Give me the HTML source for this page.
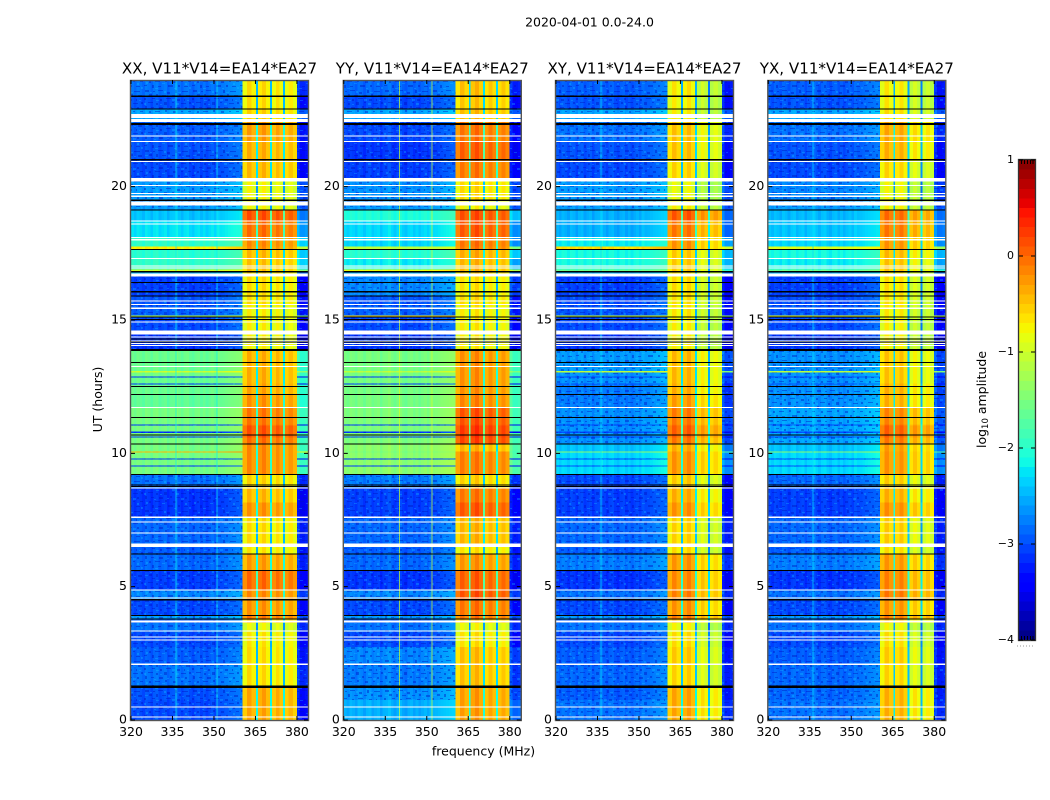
<!DOCTYPE html>
<html>
<head>
<meta charset="utf-8">
<title>Amplitude waterfall</title>
<style>
html,body{margin:0;padding:0;background:#fff;}
svg{display:block;}
text{font-family:"DejaVu Sans","Liberation Sans",sans-serif;fill:#000;}
</style>
</head>
<body>
<svg id="chart" xmlns="http://www.w3.org/2000/svg" width="1050" height="800" viewBox="0 0 1050 800">
<defs>
<pattern id="speckle" patternUnits="userSpaceOnUse" x="0" y="0" width="48" height="30">
<g fill="#0010c0" fill-opacity=".42" shape-rendering="crispEdges">
<rect x="1" y="0" width="4" height="2"/><rect x="9" y="1" width="2" height="1"/><rect x="14" y="0" width="5" height="1"/><rect x="23" y="2" width="3" height="2"/><rect x="31" y="0" width="2" height="3"/><rect x="38" y="1" width="6" height="1"/>
<rect x="5" y="4" width="3" height="2"/><rect x="12" y="4" width="2" height="3"/><rect x="18" y="5" width="4" height="1"/><rect x="28" y="5" width="3" height="1"/><rect x="35" y="4" width="2" height="2"/><rect x="42" y="5" width="4" height="2"/>
<rect x="0" y="8" width="2" height="2"/><rect x="8" y="8" width="3" height="1"/><rect x="16" y="9" width="2" height="2"/><rect x="22" y="8" width="5" height="1"/><rect x="33" y="9" width="3" height="2"/><rect x="40" y="9" width="1" height="2"/>
<rect x="4" y="12" width="5" height="1"/><rect x="12" y="13" width="2" height="2"/><rect x="20" y="12" width="3" height="3"/><rect x="28" y="12" width="2" height="1"/><rect x="37" y="13" width="5" height="1"/><rect x="45" y="12" width="2" height="2"/>
<rect x="1" y="16" width="2" height="3"/><rect x="7" y="17" width="3" height="1"/><rect x="15" y="17" width="4" height="2"/><rect x="26" y="16" width="2" height="2"/><rect x="32" y="17" width="4" height="1"/><rect x="41" y="17" width="2" height="2"/>
<rect x="5" y="21" width="2" height="2"/><rect x="11" y="21" width="5" height="1"/><rect x="21" y="20" width="2" height="2"/><rect x="29" y="21" width="3" height="2"/><rect x="37" y="21" width="2" height="1"/><rect x="44" y="21" width="3" height="1"/>
<rect x="0" y="25" width="3" height="1"/><rect x="8" y="25" width="2" height="3"/><rect x="14" y="26" width="3" height="1"/><rect x="24" y="25" width="5" height="2"/><rect x="34" y="25" width="2" height="2"/><rect x="40" y="26" width="4" height="1"/>
</g>
<g fill="#18c8ff" fill-opacity=".3" shape-rendering="crispEdges">
<rect x="6" y="2" width="2" height="1"/><rect x="20" y="1" width="2" height="2"/><rect x="34" y="2" width="3" height="1"/>
<rect x="1" y="5" width="3" height="1"/><rect x="24" y="5" width="2" height="2"/><rect x="38" y="6" width="2" height="1"/>
<rect x="12" y="10" width="3" height="1"/><rect x="28" y="9" width="3" height="2"/><rect x="43" y="10" width="2" height="1"/>
<rect x="0" y="13" width="2" height="2"/><rect x="16" y="14" width="2" height="1"/><rect x="32" y="13" width="3" height="2"/>
<rect x="10" y="19" width="2" height="1"/><rect x="23" y="18" width="2" height="1"/><rect x="37" y="18" width="3" height="2"/>
<rect x="2" y="22" width="2" height="2"/><rect x="18" y="23" width="3" height="1"/><rect x="41" y="23" width="2" height="2"/>
<rect x="11" y="28" width="3" height="1"/><rect x="30" y="28" width="2" height="1"/><rect x="45" y="27" width="2" height="2"/>
</g>
</pattern>
</defs>
<rect x="0" y="0" width="1050" height="800" fill="#fff"/>
<text x="589.5" y="26.5" font-size="12.5" text-anchor="middle">2020-04-01 0.0-24.0</text>
<text x="483.5" y="755.5" font-size="12.5" text-anchor="middle">frequency (MHz)</text>
<text x="0" y="0" font-size="12.5" text-anchor="middle" transform="translate(102 399.5) rotate(-90)">UT (hours)</text>
<text x="0" y="0" font-size="12.5" text-anchor="middle" transform="translate(986 399.5) rotate(-90)">log<tspan font-size="8.5" dy="2">10</tspan><tspan dy="-2"> amplitude</tspan></text>
<g id="panels"></g>
<g id="colorbar"></g>
</svg>
<script>
// ---------- chart data ----------
const panelTitles = ["XX, V11*V14=EA14*EA27","YY, V11*V14=EA14*EA27","XY, V11*V14=EA14*EA27","YX, V11*V14=EA14*EA27"];
const freqTicks = [320,335,350,365,380];
const hourTicks = [0,5,10,15,20];
const colorTicks = [1,0,-1,-2,-3,-4];
const colorTickLabels = ["1","0","\u22121","\u22122","\u22123","\u22124"];
const freqEdges = [320,321,322,323,324,325,326,327,328,329,330,331,332,333,334,335,336,337,338,339,340,341,342,343,344,345,346,347,348,349,350,351,352,353,354,355,356,357,358,359,360,360.4,
  362,363.6,365.2,365.9,367.4,368.9,370.3,371,372.4,373.7,375,375.7,377,378.5,380,381,382,383,384];
const bgOffsets = [-.09,-.16,-.07,-.11,-.18,-.06,-.1,-.19,-.08,-.05,-.17,-.11,-.07,-.2,-.1,-.08,-.01,-.11,-.19,-.09,-.06,-.16,-.21,-.11,-.08,-.18,-.1,-.19,-.12,-.07,-.15,-.03,-.09,-.07,-.04,-.01,.01,.03,.05,.07,.07];
const bandOffsets = [-.18,.07,-.1,-1.8,-.05,.1,-.1,-1.8,-.16,.02,-.14,-1.8,-.14,0,-.16];
const tailOffsets = [-.3,-.5,-.5,-.45];
const bandTilt = [[0,0,0,-.05],[0,.05,0,0],[.05,.05,-.22,-.28],[.05,0,-.2,-.25]];
const rowTops = [24,23.39,22.91,22.46,21.7,21,20.32,19.49,19.15,18.7,18.1,17.76,17.65,17.31,17.05,16.9,16.82,16.64,15.9,15.55,15.17,15.11,14.46,13.86,13.09,13.03,12.88,12.84,12.62,12.58,12.2,11.72,11.08,11.04,10.81,10.77,10.63,10.59,10.36,10.06,10.03,9.8,9.76,9.54,9.5,9.2,8.71,8.15,7.59,6.5,6.23,5.6,4.88,4.51,3.94,3.76,3.64,3.3,2.74,2.1,1.25,.75];
const bgXX = [-2.7,-2.85,-2.45,-2.8,-2.85,-2.9,-2.5,-2.5,-2.3,-2.15,-1.85,-.6,-1.9,-1.85,-1.8,-.9,-2.4,-2.95,-2.85,-2.8,-1,-2.9,-3,-1.5,-.9,-1.45,-3,-1.5,-3,-1.5,-1.55,-1.42,-3,-1.42,-3,-1.42,-3,-1.42,-1.42,-.3,-1.42,-3,-1.42,-3,-1.42,-2.7,-3,-3,-2.75,-2.8,-2.75,-2.95,-2.6,-2.9,-2.5,-2.8,-2.7,-2.9,-2.8,-2.7,-2.85,-2.9];
const bgYY = [-2.75,-2.9,-2.45,-2.9,-3,-2.95,-2.55,-2.5,-1.95,-2.2,-2.2,-1,-1.9,-2.1,-2,-.7,-2.4,-2.6,-2.85,-2.8,-.5,-2.9,-3,-1.42,-1,-1.42,-3,-1.42,-3,-1.42,-1.42,-1.38,-3,-1.38,-3,-1.38,-3,-1.38,-1.3,-1.4,-1.3,-3,-1.3,-3,-1.3,-2.65,-2.95,-2.95,-2.75,-2.8,-2.75,-3,-2.6,-2.9,-2.5,-2.8,-2.7,-2.9,-2.6,-2.65,-2.55,-2.4];
const bgXY = [-2.8,-2.85,-2.45,-2.7,-2.85,-2.9,-2.5,-2.5,-2.4,-2.4,-2.1,-.5,-2,-2,-1.9,-1.5,-2.4,-2.95,-2.9,-2.85,-.9,-2.9,-3,-2.5,-1,-2.55,-2.9,-2.55,-2.9,-2.65,-2.65,-2.55,-2.9,-2.55,-2.9,-2.55,-2.9,-2.55,-2.3,-1.3,-2.2,-2.9,-2.2,-2.9,-2.2,-2.9,-2.95,-2.95,-2.75,-2.8,-2.65,-3,-2.7,-2.9,-2.5,-2.8,-2.7,-2.9,-2.8,-2.75,-2.8,-2.7];
const bgYX = [-2.8,-2.85,-2.45,-2.7,-2.85,-2.9,-2.6,-2.5,-2.35,-2.3,-2.2,-.8,-2,-2.1,-2,-1.5,-2.4,-2.95,-2.9,-2.85,-.7,-2.9,-3,-2.55,-1,-2.55,-2.9,-2.55,-2.9,-2.55,-2.55,-2.45,-2.9,-2.45,-2.9,-2.45,-2.9,-2.45,-2.3,-1.3,-2.2,-2.9,-2.2,-2.9,-2.2,-2.75,-2.95,-2.95,-2.75,-2.8,-2.65,-3,-2.7,-2.9,-2.5,-2.8,-2.7,-2.9,-2.8,-2.75,-2.75,-2.7];
const bandXX = [-.65,-.65,-.6,-.3,-.4,-.45,-.8,-.8,.12,-.05,-.2,-.25,-.45,-.5,-.5,-.5,-.6,-.65,-.65,-.75,-.7,-.75,-.75,-.4,-.4,-.4,-.4,-.4,-.35,-.35,-.25,-.1,-.05,.1,.1,.1,.1,-.05,-.2,-.2,-.2,-.2,-.2,-.2,-.2,-.6,-.45,-.25,-.65,-.7,-.3,-.02,-.2,-.25,-.1,-.5,-.85,-.7,-.65,-.65,-.35,-.35];
const bandYY = [-.5,-.55,-.5,-.1,.02,-.12,-.65,-.8,.1,.05,-.1,-.15,-.4,-.45,-.45,-.45,-.6,-.7,-.65,-.75,-.7,-.75,-.75,-.25,-.25,-.25,-.25,-.25,-.25,-.25,-.2,.08,.12,.22,.22,.22,.22,.15,-.45,-.15,-.15,-.15,-.15,-.15,-.15,-.6,-.12,.05,-.45,-.7,-.28,.02,.08,-.1,-.1,-.5,-.85,-.7,-.5,-.5,-.32,-.32];
const bandXY = [-.75,-.8,-.8,-.55,-.55,-.65,-.9,-.8,.02,-.15,-.3,-.3,-.6,-.6,-.6,-.6,-.7,-.7,-.72,-.75,-.75,-.8,-.8,-.5,-.5,-.5,-.5,-.5,-.45,-.45,-.35,-.18,-.12,-.02,-.02,-.02,-.02,-.15,-.45,-.3,-.3,-.3,-.3,-.3,-.3,-.6,-.45,-.3,-.65,-.7,-.32,-.25,-.2,-.3,-.15,-.5,-.85,-.7,-.6,-.65,-.4,-.4];
const bandYX = [-.75,-.75,-.7,-.4,-.45,-.65,-.85,-.8,-.08,-.15,-.3,-.3,-.5,-.55,-.55,-.55,-.7,-.7,-.72,-.75,-.75,-.8,-.8,-.55,-.55,-.55,-.55,-.55,-.45,-.45,-.45,-.22,-.12,-.02,-.02,-.02,-.02,-.15,-.35,-.3,-.3,-.3,-.3,-.3,-.3,-.6,-.45,-.28,-.6,-.7,-.32,-.2,-.15,-.3,-.15,-.5,-.85,-.7,-.6,-.65,-.45,-.45];
const whiteFlags = [[22.72,22.57],[22.53,22.43],[21.92,21.88],[21.72,21.68],[20.97,20.93],[20.32,20.2],[20.07,20.03],[19.77,19.73],[19.66,19.62],[19.45,19.3],[18.73,18.69],[18.62,18.58],[18.12,18.08],[18.03,17.99],[17.33,17.29],[17.04,17],[16.97,16.93],[16.75,16.64],[15.73,15.69],[15.6,15.56],[15.46,15.42],[14.94,14.9],[14.61,14.46],[14.38,14.34],[14.23,14.19],[14.14,14.1],[14.06,14.02],[13.28,13.24],[11.74,11.7],[8.72,8.68],[7.63,7.58],[7.44,7.4],[7.04,7],[6.61,6.48],[4.89,4.85],[4.59,4.55],[3.74,3.65],[3.36,3.32],[3.14,3.1],[3.02,2.98],[2.11,2.07],[.5,.46],[.14,.1]];
const blackFlags = [[23.41,23.37],[22.93,22.89],[22.38,22.31],[21.03,20.99],[19.51,19.47],[19.15,19.11],[17.67,17.63],[16.83,16.79],[16.42,16.38],[16.08,16.04],[15.92,15.88],[15.13,15.09],[15.04,15],[14.3,14.26],[14.19,14.15],[13.92,13.83],[13.43,13.39],[12.52,12.48],[12.22,12.18],[11.36,11.32],[10.71,10.67],[10.37,10.33],[9.22,9.18],[8.84,8.8],[8.77,8.73],[6.24,6.2],[5.62,5.58],[4.53,4.49],[3.94,3.9],[3.8,3.76],[1.29,1.2]];
const rfiFreqs = [[336,351],[340,351.8],[336],[336]];
const rfiLevels = [-2.2,-1,-2.3,-2.3];
const colorLevels = [1,.9,.8,.7,.6,.5,.4,.3,.2,.1,0,-.1,-.2,-.3,-.4,-.5,-.6,-.7,-.8,-.9,-1,-1.1,-1.2,-1.3,-1.4,-1.5,-1.6,-1.7,-1.8,-1.9,-2,-2.1,-2.2,-2.3,-2.4,-2.5,-2.6,-2.7,-2.8,-2.9,-3,-3.1,-3.2,-3.3,-3.4,-3.5,-3.6,-3.7,-3.8,-3.9];
const bgByPanel = [bgXX,bgYY,bgXY,bgYX];
const bandByPanel = [bandXX,bandYY,bandXY,bandYX];

// ---------- layout and scales ----------
const panelLeft = [131,343.8,556,768.3];
const panelWidth = 177;
const plotTop = 80;
const plotBottom = 720;
const freqMin = 320, freqMax = 384, hourMin = 0, hourMax = 24;
const cbX = 1019, cbW = 16, cbTop = 160, cbBottom = 640, cbMax = 1, cbMin = -4;
const speckleBelow = -2.4;
const bandStartFreq = 360.4, bandEndFreq = 380;
const cbEdgeTickInsets = [2.5,5.5,8.5,11.5,14];
const NS = "http://www.w3.org/2000/svg";
function xScale(p,f){return panelLeft[p]+(f-freqMin)/(freqMax-freqMin)*panelWidth;}
function yScale(h){return plotBottom-(h-hourMin)/(hourMax-hourMin)*(plotBottom-plotTop);}
function cbScale(v){return cbTop+(cbMax-v)/(cbMax-cbMin)*(cbBottom-cbTop);}
function piece(t,pts){
  for(let i=1;i<pts.length;i++){
    if(t<=pts[i][0]){
      const a=pts[i-1],b=pts[i];
      return a[1]+(b[1]-a[1])*(t-a[0])/(b[0]-a[0]);
    }
  }
  return pts[pts.length-1][1];
}
function jet(v){
  const t=Math.max(0,Math.min(1,(v-cbMin)/(cbMax-cbMin)));
  const r=piece(t,[[0,0],[.35,0],[.66,1],[.89,1],[1,.5]]);
  const g=piece(t,[[0,0],[.125,0],[.375,1],[.64,1],[.91,0],[1,0]]);
  const b=piece(t,[[0,.5],[.11,1],[.34,1],[.65,0],[1,0]]);
  return "rgb("+Math.round(r*255)+","+Math.round(g*255)+","+Math.round(b*255)+")";
}
function shape(parent,tag,attrs){
  const n=document.createElementNS(NS,tag);
  for(const k in attrs){n.setAttribute(k,attrs[k]);}
  parent.appendChild(n);
  return n;
}
function channelValue(p,row,c){
  const nb=bgOffsets.length;
  if(c<nb){return bgByPanel[p][row]+bgOffsets[c];}
  const i=c-nb;
  if(i<bandOffsets.length){return bandByPanel[p][row]+bandOffsets[i]+bandTilt[p][Math.floor(i/4)];}
  return bgByPanel[p][row]+tailOffsets[i-bandOffsets.length];
}

// ---------- panels ----------
const panelsRoot=document.getElementById("panels");
panelTitles.forEach(function(title,p){
  const g=shape(panelsRoot,"g",{});
  
  
  const cells=shape(g,"g",{"shape-rendering":"crispEdges"});
  
  
  rowTops.forEach(function(top,r){
    const bottom=r+1<rowTops.length?rowTops[r+1]:hourMin;
    const y0=yScale(top),y1=yScale(bottom);
    for(let c=0;c<freqEdges.length-1;c++){
      const x0=xScale(p,freqEdges[c]),x1=xScale(p,freqEdges[c+1]);
      const cell=shape(cells,"rect",{x:x0,y:y0,width:x1-x0+.3,height:y1-y0+.3,fill:jet(channelValue(p,r,c))});
      
      
    }
    if(bgByPanel[p][r]<speckleBelow){
      const noiseBg=shape(cells,"rect",{x:xScale(p,freqMin),y:y0,width:xScale(p,bandStartFreq)-xScale(p,freqMin),height:y1-y0,fill:"url(#speckle)"});
      
      
      const noiseTail=shape(cells,"rect",{x:xScale(p,bandEndFreq),y:y0,width:xScale(p,freqMax)-xScale(p,bandEndFreq),height:y1-y0,fill:"url(#speckle)"});
      
      
    }
  });
  rfiFreqs[p].forEach(function(f){
    const line=shape(cells,"rect",{x:xScale(p,f),y:plotTop,width:1,height:plotBottom-plotTop,fill:jet(rfiLevels[p]),"fill-opacity":.7});
    
    
  });
  whiteFlags.forEach(function(fl){
    const w=shape(cells,"rect",{x:panelLeft[p],y:yScale(fl[0]),width:panelWidth,height:yScale(fl[1])-yScale(fl[0]),fill:"#fff"});
    
    
  });
  blackFlags.forEach(function(fl){
    const b=shape(cells,"rect",{x:panelLeft[p],y:yScale(fl[0]),width:panelWidth,height:yScale(fl[1])-yScale(fl[0]),fill:"#000"});
    
    
  });
  const frame=shape(g,"rect",{x:panelLeft[p]-.5,y:plotTop+.5,width:panelWidth+1,height:plotBottom-plotTop,fill:"none",stroke:"#555","stroke-width":1.4});
  
  
  const t=shape(g,"text",{x:panelLeft[p]+panelWidth/2,y:73.5,"font-size":15.1,"text-anchor":"middle"});
  
  
  t.textContent=title;
  freqTicks.forEach(function(f){
    const x=xScale(p,f);
    const tk=shape(g,"path",{d:"M"+x+" "+plotBottom+"v-4M"+x+" "+plotTop+"v4",stroke:"#000","stroke-width":1,fill:"none"});
    
    
    const lb=shape(g,"text",{x:x,y:736,"font-size":12.5,"text-anchor":"middle"});
    
    
    lb.textContent=String(f);
  });
  hourTicks.forEach(function(h){
    const y=yScale(h);
    const x0=panelLeft[p],x1=panelLeft[p]+panelWidth;
    const tk=shape(g,"path",{d:"M"+x0+" "+y+"h4M"+x1+" "+y+"h-4",stroke:"#000","stroke-width":1,fill:"none"});
    
    
    const lb=shape(g,"text",{x:x0-4,y:y+3.5,"font-size":12.5,"text-anchor":"end"});
    
    
    lb.textContent=String(h);
  });
});

// ---------- colorbar ----------
const cbRoot=document.getElementById("colorbar");
colorLevels.forEach(function(v,i){
  const next=i+1<colorLevels.length?colorLevels[i+1]:cbMin;
  const r=shape(cbRoot,"rect",{x:cbX,y:cbScale(v),width:cbW,height:cbScale(next)-cbScale(v)+.4,fill:jet((v+next)/2),"shape-rendering":"crispEdges"});
  
  
});
const cbFrame=shape(cbRoot,"rect",{x:cbX-.5,y:cbTop-.5,width:cbW+1,height:cbBottom-cbTop+1,fill:"none",stroke:"#333","stroke-width":1.3});


colorTicks.forEach(function(v,i){
  const y=cbScale(v);
  const tk=shape(cbRoot,"path",{d:"M"+cbX+" "+y+"h4M"+(cbX+cbW)+" "+y+"h-4",stroke:"#000","stroke-width":1,fill:"none"});
  
  
  const lb=shape(cbRoot,"text",{x:cbX-5,y:y+3,"font-size":11,"text-anchor":"end"});
  
  
  lb.textContent=colorTickLabels[i];
});
cbEdgeTickInsets.forEach(function(dx){
  const x=cbX+dx;
  const tk=shape(cbRoot,"path",{d:"M"+x+" "+cbTop+"v4M"+x+" "+cbBottom+"v-4",stroke:"#000","stroke-width":1,fill:"none"});
  
  
});
const cbDots=shape(cbRoot,"path",{d:"M1017 646H1035",stroke:"#999","stroke-width":1,"stroke-dasharray":"1 2",fill:"none"});


</script>
</body>
</html>
